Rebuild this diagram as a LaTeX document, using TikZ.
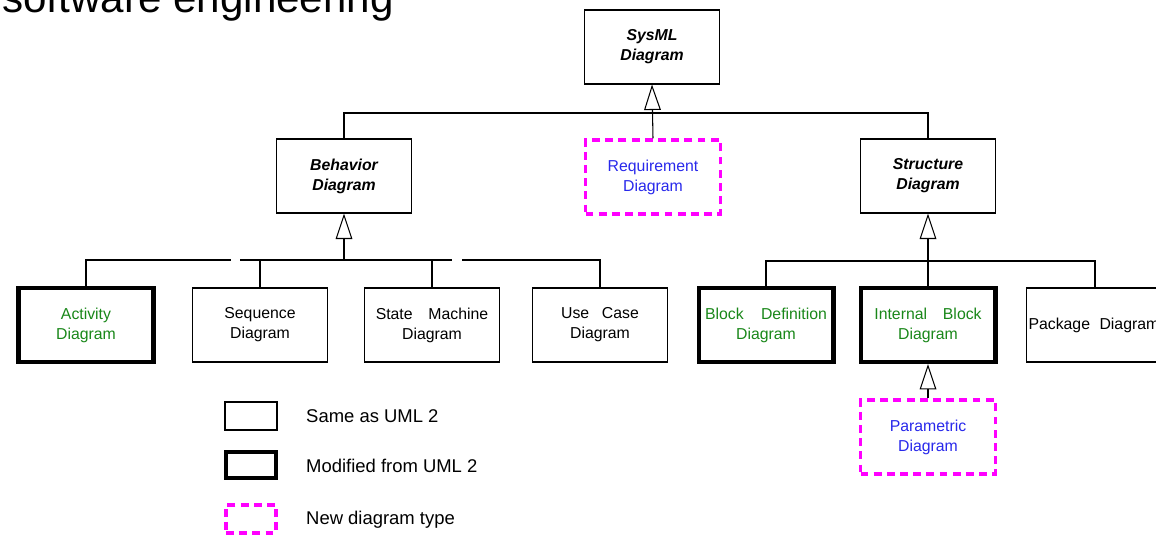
\documentclass[tikz,border=0pt]{standalone}
\usepackage{fontspec}
\setmainfont{Liberation Sans}
\usetikzlibrary{arrows.meta}

\definecolor{modgreen}{RGB}{25,135,25}
\definecolor{newblue}{RGB}{40,40,235}
\definecolor{newmagenta}{RGB}{255,0,255}

\tikzset{
  diagbox/.style={draw, line width=0.6pt, minimum width=2.7cm, minimum height=1.48cm,
    align=center, inner sep=1pt, font=\fontsize{9}{11.4}\selectfont},
  abstractbox/.style={diagbox, font=\fontsize{9}{11.4}\selectfont\bfseries\itshape},
  modbox/.style={diagbox, line width=2.3pt, text=modgreen},
  newbox/.style={diagbox, draw=newmagenta, line width=2pt,
    dash pattern=on 4.5pt off 3pt, text=newblue},
  gen/.style={line width=0.6pt, -{Triangle[open, length=14.5pt, width=9.5pt]}},
  link/.style={line width=0.6pt},
  legtext/.style={anchor=west, font=\fontsize{10.5}{12}\selectfont}
}

\begin{document}
\begin{tikzpicture}[x=0.02cm, y=-0.02cm]
  \useasboundingbox (0,0) rectangle (1156,535);
  \clip (0,0) rectangle (1156,535);

  % slide title (cut off at the top)
  \node[anchor=base west, inner sep=0pt, font=\fontsize{24}{28}\selectfont]
    (title) at (2,12) {software engineering};

  % top level
  \node[abstractbox] (sysml) at (652,47) {SysML\\Diagram};
  \node[abstractbox] (beh) at (344,176) {Behavior\\Diagram};
  \node[newbox] (req) at (653,177) {Requirement\\Diagram};
  \node[abstractbox] (str) at (928,176) {Structure\\Diagram};

  \coordinate (topbus) at (652,113);
  \draw[link] (beh.north) |- (topbus) -| (str.north);
  \draw[gen] (req.north) -- (sysml.south);

  % behavior diagrams
  \node[modbox] (act) at (86,325) {Activity\\Diagram};
  \node[diagbox] (seq) at (260,325) {Sequence\\Diagram};
  \node[diagbox] (sm) at (432,325) {State\hspace{1em}Machine\\Diagram};
  \node[diagbox] (uc) at (600,325) {Use\hspace{0.8em}Case\\Diagram};

  \coordinate (behbus) at (344,260);
  \coordinate (gapAa) at (231,260);
  \coordinate (gapAb) at (240,260);
  \coordinate (gapBa) at (452,260);
  \coordinate (gapBb) at (462,260);
  \draw[gen] (behbus) -- (beh.south);
  \draw[link] (act.north) |- (gapAa);
  \draw[link] (gapAb) -- (gapBa);
  \draw[link] (gapBb) -| (uc.north);
  \draw[link] (seq.north) -- (seq.north |- behbus);
  \draw[link] (sm.north) -- (sm.north |- behbus);

  % structure diagrams
  \node[modbox] (bdd) at (766,325) {Block\hspace{1.1em}Definition\\Diagram};
  \node[modbox] (ibd) at (928,325) {Internal\hspace{1em}Block\\Diagram};
  \node[diagbox, text width=2.66cm, align=left] (pkg) at (1095,325)
    {\mbox{Package\hspace{0.6em}Diagram}};
  \node[newbox] (par) at (928,437) {Parametric\\Diagram};

  \coordinate (strbus) at (928,261);
  \draw[gen] (ibd.north) -- (str.south);
  \draw[link] (bdd.north) |- (strbus) -| (pkg.north);
  \draw[gen] (par.north) -- (ibd.south);

  % legend
  \node[diagbox, minimum width=1.04cm, minimum height=0.56cm] (legsame) at (251,416) {};
  \node[modbox, minimum width=1cm, minimum height=0.52cm] (legmod) at (251,465) {};
  \node[newbox, minimum width=1cm, minimum height=0.56cm] (legnew) at (251,519) {};
  \node[legtext] (legsametext) at (300,416) {Same as UML 2};
  \node[legtext] (legmodtext) at (300,466) {Modified from UML 2};
  \node[legtext] (legnewtext) at (300,520) {New diagram type};
\end{tikzpicture}
\end{document}
